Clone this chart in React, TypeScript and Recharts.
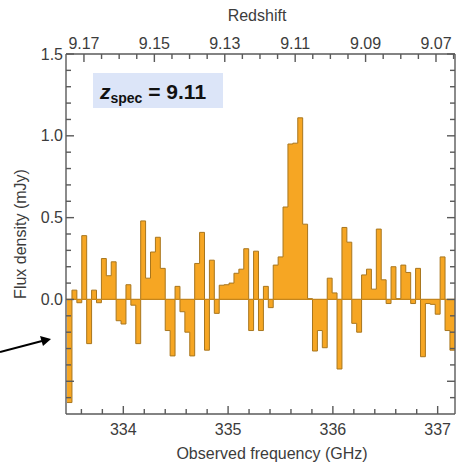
import React from 'react';
import { ComposedChart, Area, Scatter, XAxis, YAxis, ReferenceLine } from 'recharts';

// Flux density per spectral channel (mJy), low -> high frequency
const FLUX_MJY = [
  -0.63, 0.057, -0.02, 0.39, -0.27, 0.057, -0.02, 0.25, 0.145, 0.23,
  -0.13, -0.15, 0.09, -0.035, -0.27, 0.48, 0.13, 0.29, 0.38, 0.19,
  -0.19, -0.345, 0.08, -0.075, -0.2, -0.345, 0.22, 0.41, -0.31, 0.24,
  -0.085, 0.087, 0.09, 0.1, 0.16, 0.185, 0.31, -0.19, 0.295, -0.19,
  0.08, -0.05, 0.21, 0.26, 0.565, 0.95, 0.955, 1.11, 0.46, 0.005,
  -0.315, -0.19, -0.295, 0.13, 0.04, -0.425, 0.44, 0.35, -0.146, -0.2,
  0.15, 0.185, 0.063, 0.43, 0.12, -0.025, 0.2, 0.005, 0.21, 0.165,
  -0.025, 0.19, -0.35, -0.025, -0.03, -0.09, 0.26, -0.19, -0.31,
];
const FIRST_CHANNEL_GHZ = 333.463;
const CHANNEL_WIDTH_GHZ = 0.04685;

const FREQ_DOMAIN = [333.453, 337.1655];
const FREQ_MAJOR_TICKS = [334, 335, 336, 337];
const FREQ_MINOR_TICKS = [333.6, 333.8, 334.2, 334.4, 334.6, 334.8, 335.2, 335.4, 335.6, 335.8, 336.2, 336.4, 336.6, 336.8];

const Z_DOMAIN = [9.0646, 9.1751];
const Z_MAJOR_TICKS = [9.17, 9.15, 9.13, 9.11, 9.09, 9.07];
const Z_MINOR_TICKS = [9.165, 9.16, 9.155, 9.145, 9.14, 9.135, 9.125, 9.12, 9.115, 9.105, 9.1, 9.095, 9.085, 9.08, 9.075, 9.065];

const FLUX_DOMAIN = [-0.7, 1.5];
const FLUX_LABELED_TICKS = [0, 0.5, 1.0, 1.5];
const FLUX_MAJOR_TICKS = [-0.5, 0, 0.5, 1.0, 1.5];
const FLUX_MINOR_TICKS = [-0.6, -0.4, -0.3, -0.2, -0.1, 0.1, 0.2, 0.3, 0.4, 0.6, 0.7, 0.8, 0.9, 1.1, 1.2, 1.3, 1.4];

const Z_SPEC_LABEL = '9.11';

const AXIS = '#5a5a5a';
const TEXT = '#3c3c3c';
const FONT = '"Liberation Sans", Arial, Helvetica, sans-serif';
const FILL = '#F6A623';
const STROKE = '#A8761E';
const TW = 1.4; // tick thickness

const data = [
  ...FLUX_MJY.map((v, i) => ({ freq: FIRST_CHANNEL_GHZ + i * CHANNEL_WIDTH_GHZ, flux: v })),
  { freq: FIRST_CHANNEL_GHZ + FLUX_MJY.length * CHANNEL_WIDTH_GHZ, flux: FLUX_MJY[FLUX_MJY.length - 1] },
];
// invisible anchor points so the redshift axis gets its own scale
const zAnchor = Z_DOMAIN.map((z) => ({ z, flux: 0 }));

const sortNum = (a: number[]) => [...a].sort((p, q) => p - q);

const BottomTick = (props: any) => {
  const { x, y, payload } = props;
  const major = FREQ_MAJOR_TICKS.includes(payload.value);
  const len = major ? 8 : 5;
  return (
    <g>
      <rect x={x - TW / 2} y={y - len} width={TW} height={len} fill={AXIS} />
      {major && (
        <text x={x} y={y + 15} textAnchor="middle" dominantBaseline="central" fontSize={16} fontFamily={FONT} fill={TEXT}>
          {payload.value}
        </text>
      )}
    </g>
  );
};

const TopTick = (props: any) => {
  const { x, y, payload } = props;
  const major = Z_MAJOR_TICKS.includes(payload.value);
  const len = major ? 8 : 5;
  return (
    <g>
      <rect x={x - TW / 2} y={y} width={TW} height={len} fill={AXIS} />
      {major && (
        <text x={x} y={y - 11} textAnchor="middle" dominantBaseline="central" fontSize={16} fontFamily={FONT} fill={TEXT}>
          {payload.value.toFixed(2)}
        </text>
      )}
    </g>
  );
};

const LeftTick = (props: any) => {
  const { x, y, payload } = props;
  const major = FLUX_MAJOR_TICKS.includes(payload.value);
  const labeled = FLUX_LABELED_TICKS.includes(payload.value);
  const len = major ? 8 : 5;
  return (
    <g>
      <rect x={x} y={y - TW / 2} width={len} height={TW} fill={AXIS} />
      {labeled && (
        <text x={x - 3} y={y} textAnchor="end" dominantBaseline="central" fontSize={16} fontFamily={FONT} fill={TEXT}>
          {payload.value.toFixed(1)}
        </text>
      )}
    </g>
  );
};

const RightTick = (props: any) => {
  const { x, y, payload } = props;
  const major = FLUX_MAJOR_TICKS.includes(payload.value);
  const len = major ? 8 : 5;
  return <rect x={x - len} y={y - TW / 2} width={len} height={TW} fill={AXIS} />;
};

export default function App() {
  return (
    <div style={{ position: 'absolute', left: 0, top: 0, width: 462, height: 469, background: '#fff' }}>
      <ComposedChart width={462} height={469} data={data} margin={{ top: 0, right: 0, bottom: 0, left: 0 }}>
        <XAxis
          xAxisId="freq"
          dataKey="freq"
          type="number"
          orientation="bottom"
          domain={FREQ_DOMAIN}
          allowDataOverflow
          ticks={sortNum([...FREQ_MAJOR_TICKS, ...FREQ_MINOR_TICKS])}
          interval={0}
          height={55}
          tickSize={0}
          tickMargin={0}
          tick={<BottomTick />}
          axisLine={{ stroke: AXIS, strokeWidth: 1.4 }}
        />
        <XAxis
          xAxisId="z"
          dataKey="z"
          type="number"
          orientation="top"
          domain={Z_DOMAIN}
          reversed
          allowDataOverflow
          ticks={sortNum([...Z_MAJOR_TICKS, ...Z_MINOR_TICKS])}
          interval={0}
          height={54}
          tickSize={0}
          tickMargin={0}
          tick={<TopTick />}
          axisLine={{ stroke: AXIS, strokeWidth: 1.4 }}
        />
        <YAxis
          yAxisId="left"
          type="number"
          orientation="left"
          domain={FLUX_DOMAIN}
          allowDataOverflow
          ticks={sortNum([...FLUX_MAJOR_TICKS, ...FLUX_MINOR_TICKS])}
          interval={0}
          width={66}
          tickSize={0}
          tickMargin={0}
          tick={<LeftTick />}
          axisLine={{ stroke: AXIS, strokeWidth: 1.4 }}
        />
        <YAxis
          yAxisId="right"
          type="number"
          orientation="right"
          domain={FLUX_DOMAIN}
          allowDataOverflow
          ticks={sortNum([...FLUX_MAJOR_TICKS, ...FLUX_MINOR_TICKS])}
          interval={0}
          width={7}
          tickSize={0}
          tickMargin={0}
          tick={<RightTick />}
          axisLine={{ stroke: AXIS, strokeWidth: 1.4 }}
        />
        <Area
          xAxisId="freq"
          yAxisId="left"
          type="stepAfter"
          dataKey="flux"
          baseValue={0}
          fill={FILL}
          fillOpacity={1}
          stroke={STROKE}
          strokeWidth={1}
          dot={false}
          activeDot={false}
          isAnimationActive={false}
        />
        <Scatter
          xAxisId="z"
          yAxisId="right"
          data={zAnchor}
          dataKey="flux"
          shape={() => <g />}
          isAnimationActive={false}
        />
        <ReferenceLine xAxisId="freq" yAxisId="left" y={0} stroke="#C4851C" strokeWidth={1.2} />
      </ComposedChart>
      <svg width={462} height={469} style={{ position: 'absolute', left: 0, top: 0, pointerEvents: 'none' }}>
        <text x={257} y={15} textAnchor="middle" dominantBaseline="central" fontSize={16} fontFamily={FONT} fill={TEXT}>
          Redshift
        </text>
        <text x={272} y={453} textAnchor="middle" dominantBaseline="central" fontSize={16} fontFamily={FONT} fill={TEXT}>
          Observed frequency (GHz)
        </text>
        <text
          x={20}
          y={234}
          textAnchor="middle"
          dominantBaseline="central"
          fontSize={16}
          fontFamily={FONT}
          fill={TEXT}
          transform="rotate(-90 20 234)"
        >
          Flux density (mJy)
        </text>
        <rect x={93} y={73} width={130} height={35} fill="#DCE5F8" />
        <text x={100} y={99} fontSize={21} fontFamily={FONT} fontWeight="bold" fill="#111">
          <tspan fontStyle="italic">z</tspan>
          <tspan fontSize={14} dy={4}>spec</tspan>
          <tspan dy={-4}>{' = ' + Z_SPEC_LABEL}</tspan>
        </text>
        <path d="M0,352L42,341" stroke="#000" strokeWidth={2} fill="none" />
        <polygon points="51,339 40,336 43,346" fill="#000" />
      </svg>
    </div>
  );
}
